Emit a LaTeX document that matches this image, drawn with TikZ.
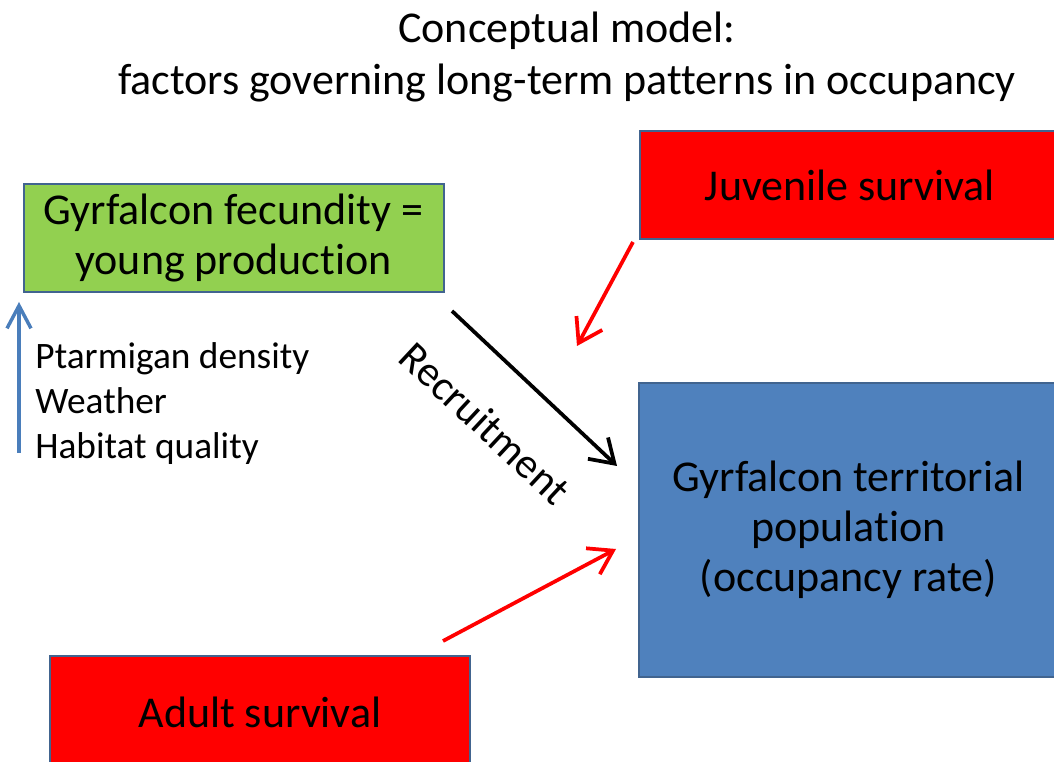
\documentclass[tikz,border=0pt]{standalone}
\usepackage{fontspec}
\setmainfont[Ligatures=NoCommon]{Carlito}
\usetikzlibrary{arrows.meta}
\definecolor{fecgreen}{HTML}{92D050}
\definecolor{survred}{HTML}{FF0000}
\definecolor{popblue}{HTML}{4F81BD}
\definecolor{boxline}{HTML}{41648F}
\definecolor{drivblue}{HTML}{4A7EBB}

\begin{document}
\begin{tikzpicture}
[x=0.75pt, y=-0.75pt,
% STYLES
every node/.style={inner sep=0pt},
% The factor style is used to draw the boxes of the model
factor/.style={rectangle, draw=boxline, line width=1.5pt, align=center, text=black,
  font=\fontsize{33}{37.5}\selectfont, minimum width=315pt, minimum height=81pt},
% The influence style is used to draw the arrows
influence/.style={line width=2.8pt, -{Straight Barb[length=17pt,width=22pt]}}]

\clip (0,0) rectangle (1054,762);

% Draw title
\node [align=center, font=\fontsize{33}{39}\selectfont] (title) at (567,57)
  {Conceptual model:\\factors governing long-term patterns in occupancy};

% Draw factors
\node [factor, fill=fecgreen] (fecundity) at (233.5,238.5) {Gyrfalcon fecundity =\\young production};
\node [factor, fill=survred] (juvenile) at (850,185) {Juvenile survival};
\node [factor, fill=popblue, minimum height=220.5pt] (population) at (848.5,530)
  {Gyrfalcon territorial\\population\\(occupancy rate)};
\node [factor, fill=survred, minimum height=84pt] (adult) at (260,712) {Adult survival};

\node [anchor=west, align=left, font=\fontsize{28}{33.75}\selectfont] (drivers) at (35,404)
  {Ptarmigan density\\Weather\\Habitat quality};

% Draw arrows
\coordinate (drivstart) at (19,453);
\coordinate (drivend) at (19,302);
\coordinate (recstart) at (452,311);
\coordinate (recend) at (617,466);
\coordinate (juvstart) at (633,242);
\coordinate (juvend) at (577,346);
\coordinate (adstart) at (443,641);
\coordinate (adend) at (616,549);

\draw [influence, drivblue, line width=2.6pt, -{Straight Barb[length=17pt,width=18pt]}] (drivstart) -- (drivend);
\draw [influence, black] (recstart) -- (recend);
\draw [influence, survred] (juvstart) -- (juvend);
\draw [influence, survred] (adstart) -- (adend);
\node [rotate=-43, font=\fontsize{32}{38}\selectfont] (recruit) at (485,423) {Recruitment};

\end{tikzpicture}
\end{document}
